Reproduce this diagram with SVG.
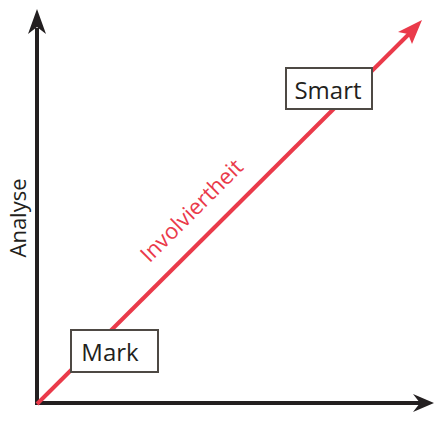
<svg xmlns="http://www.w3.org/2000/svg" width="434" height="433" viewBox="0 0 434 433">
<style>
.axis{stroke:#231f20;stroke-width:4;fill:none}
.red{stroke:#ea3a4a;stroke-width:4;fill:none}
.box{fill:#fff;stroke:#4e4944;stroke-width:2}
.lbl{font-family:"Open Sans","Noto Sans",sans-serif;font-size:24px;fill:#231f20;text-anchor:middle}
</style>
<rect width="434" height="433" fill="#fff"/>
<g id="connectors">
<line class="axis" x1="37" y1="405" x2="37" y2="28"/>
<path d="M37,9 L46,34 L37,27 L28,34 Z" fill="#231f20"/>
<line class="axis" x1="35" y1="403" x2="420" y2="403"/>
<path d="M434,403 L413,394 L420,403 L413,412 Z" fill="#231f20"/>
<line class="red" x1="37" y1="404" x2="413" y2="30"/>
<path d="M422,20 L398,32 L408,34 L412,44 Z" fill="#ea3a4a"/>
<text x="197" y="216" transform="rotate(-45 197 216)" font-family="'Open Sans','Noto Sans',sans-serif" font-size="22" fill="#ea3a4a" text-anchor="middle">Involviertheit</text>
</g>
<g id="axis-y-label">
<text x="18" y="218" transform="rotate(-90 18 218)" dy="8" font-family="'Open Sans','Noto Sans',sans-serif" font-size="22" fill="#231f20" text-anchor="middle">Analyse</text>
</g>
<g id="node-smart">
<rect class="box" x="286" y="68" width="86" height="41"/>
<text class="lbl" x="328" y="99">Smart</text>
</g>
<g id="node-mark">
<rect class="box" x="71" y="330" width="87" height="42"/>
<text class="lbl" x="110" y="361">Mark</text>
</g>
</svg>
